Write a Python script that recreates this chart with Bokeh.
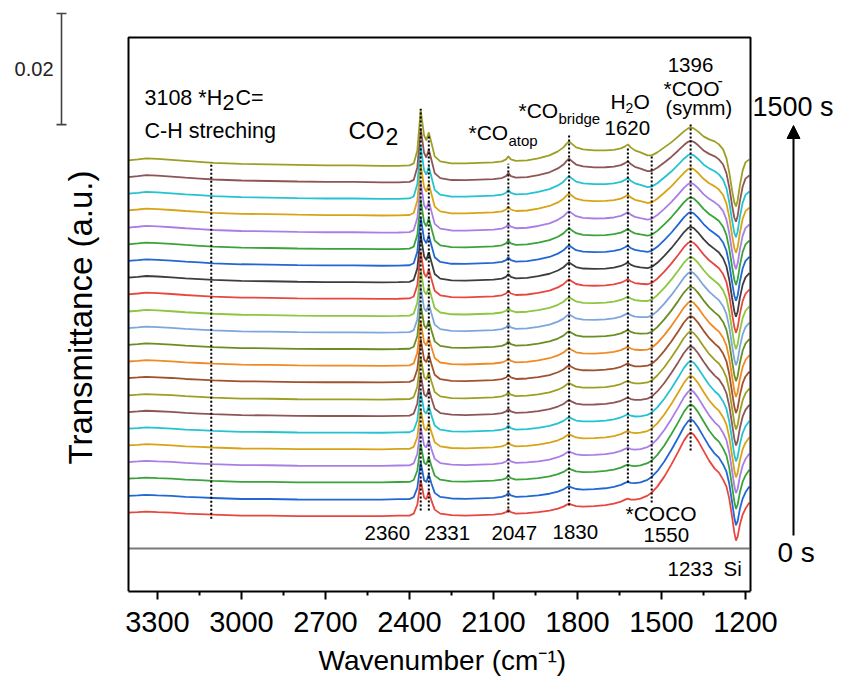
import math
from bokeh.plotting import figure
from bokeh.models import Range1d, FixedTicker, Arrow, NormalHead, Title
from bokeh.core.properties import value
from bokeh.embed import file_html
from bokeh.resources import INLINE

FONT = "Liberation Sans"

# ---------------- data ----------------
wavenumber = [3405, 3370, 3340, 3300, 3250, 3200, 3150, 3100, 3050, 3000, 2900, 2800, 2700, 2600,
              2500, 2440, 2400, 2385, 2372, 2360, 2348, 2340, 2331, 2322, 2310, 2290, 2250, 2200,
              2150, 2100, 2070, 2055, 2047, 2038, 2020, 1980, 1940, 1900, 1870, 1850, 1838, 1830,
              1822, 1805, 1780, 1740, 1700, 1670, 1645, 1630, 1620, 1610, 1595, 1575, 1550, 1535,
              1515, 1490, 1465, 1440, 1420, 1405, 1396, 1385, 1370, 1350, 1330, 1310, 1295, 1280,
              1268, 1258, 1248, 1240, 1234, 1228, 1220, 1210, 1200, 1186]

# spectrum shape at 0 s (bottom trace), in 1e-3 a.u., relative to its own baseline
profile_0s = [0, 0.09, 0.18, 0.09, 0, -0.18, -0.27, -0.36, -0.45, -0.54, -0.54, -0.63, -0.63, -0.63,
              -0.63, -0.54, -0.54, -0.18, 1.44, 5.9, 2.7, 2.4, 3.8, 2.2, 0.54, -0.18, -0.45, -0.54,
              -0.45, -0.36, -0.18, 0.09, 0.54, 0.09, -0.18, -0.09, 0.09, 0.36, 0.72, 1.08, 1.44, 1.62,
              1.44, 1.17, 1.08, 1.17, 1.35, 1.62, 1.98, 2.34, 2.52, 2.34, 2.34, 2.52, 3.06, 3.6,
              4.68, 6.48, 8.64, 10.98, 12.96, 14.04, 14.4, 14.04, 12.96, 11.16, 9.36, 7.92, 7.2, 5.94,
              4.68, 2.52, -0.72, -3.6, -5.04, -4.32, -2.16, -0.36, 0.72, 1.8]

# spectrum shape at 1500 s (top trace), in 1e-3 a.u., relative to its own baseline
profile_1500s = [0, 0.18, 0.36, 0.27, 0.09, -0.09, -0.27, -0.45, -0.54, -0.63, -0.72, -0.81, -0.9, -0.9,
                 -0.99, -0.99, -0.9, -0.54, 1.8, 9.0, 4.5, 3.6, 5.04, 3.24, 0.72, -0.18, -0.54, -0.54,
                 -0.45, -0.36, -0.18, 0.18, 0.72, 0.18, -0.09, 0, 0.36, 0.9, 1.62, 2.34, 3.06, 3.42,
                 3.06, 2.34, 1.98, 1.8, 1.8, 1.89, 2.16, 2.52, 2.88, 2.34, 1.8, 1.44, 0.9, 0.9,
                 1.44, 2.34, 3.24, 4.32, 5.22, 5.76, 5.94, 5.76, 5.22, 4.32, 3.78, 3.42, 2.88, 1.98,
                 0.36, -2.16, -5.4, -7.56, -8.28, -7.2, -4.5, -1.8, -0.36, 0.18]

# per-trace stacking offset (1e-3 a.u.) and share of the 0 s shape, from 0 s (bottom) to 1500 s (top)
trace_offset = [14.2, 17.2, 20.3, 23.3, 26.3, 29.3, 32.3, 35.3, 38.4, 41.4, 44.4,
                47.4, 50.4, 53.5, 56.5, 59.5, 62.5, 65.5, 68.6, 71.6, 74.6, 77.6]
trace_share_0s = [1.0, 0.93, 0.88, 0.83, 0.78, 0.74, 0.70, 0.66, 0.62, 0.58, 0.54,
                  0.50, 0.46, 0.42, 0.38, 0.34, 0.30, 0.25, 0.20, 0.14, 0.07, 0.0]
trace_color = ["#e8473f", "#2267d4", "#3aa33a", "#a97fe6", "#d8a417", "#25c3d2", "#8e5555",
               "#9d9f24", "#a0522d", "#f08a24", "#6b8e23", "#7ea6dc", "#8dc63f", "#e8473f",
               "#3d3d3d", "#2267d4", "#3aa33a", "#a97fe6", "#d8a417", "#25c3d2", "#8e5555", "#9d9f24"]

si_reference_wn = [3404, 1186]
si_reference_level = [7.74, 7.74]

# band markers: position (cm-1), lower and upper end of the dotted line (1e-3 a.u.)
marker_wn = [3108, 2360, 2331, 2047, 1830, 1620, 1535, 1396]
marker_low = [13.1, 14.6, 14.6, 14.2, 15.5, 19.6, 16.0, 25.4]
marker_high = [77.2, 86.9, 82.1, 77.0, 82.1, 79.9, 78.5, 84.4]

x_ticks = [3300, 3000, 2700, 2400, 2100, 1800, 1500, 1200]
x_minor_ticks = [3150, 2850, 2550, 2250, 1950, 1650, 1350]
scale_bar_value = 0.02  # a.u.

# ---------------- page geometry ----------------
PX_PER_CM = 0.28      # screen px per cm-1
AU_PER_PX = 0.18      # 1e-3 a.u. per screen px


def wx(px):   # page x pixel -> wavenumber
    return 3300 - (px - 157) / PX_PER_CM


def wy(py):   # page y pixel -> 1e-3 a.u.
    return (591 - py) * AU_PER_PX


W, H = 834, 687
p = figure(width=W, height=H, output_backend="svg", toolbar_location=None,
           x_range=Range1d(wx(0), wx(W)), y_range=Range1d(wy(591), wy(0)),
           y_axis_location=None, min_border_left=0, min_border_right=0,
           min_border_top=0, min_border_bottom=H - 591)
p.outline_line_color = None
p.grid.visible = False
p.background_fill_color = "white"
p.border_fill_color = "white"

box_left, box_right, box_top = wx(128), wx(750), wy(37)

# spectra
for i in range(len(trace_offset)):
    s = trace_share_0s[i]
    ys = [trace_offset[i] + s * a + (1 - s) * b for a, b in zip(profile_0s, profile_1500s)]
    p.line(wavenumber, ys, line_color=trace_color[i], line_width=1.8)

# Si reference
p.line(si_reference_wn, si_reference_level, line_color="#7a7a7a", line_width=2.2)

# dotted band markers
p.segment(x0=marker_wn, y0=marker_low, x1=marker_wn, y1=marker_high,
          line_color="black", line_width=2, line_dash="2 2")

# plot box (bottom side is the x axis)
p.line([box_left, box_left, box_right, box_right], [0, box_top, box_top, 0],
       line_color="black", line_width=2)

# x axis
ax = p.xaxis[0]
ax.ticker = FixedTicker(ticks=x_ticks, minor_ticks=x_minor_ticks)
ax.major_label_overrides = {t: str(t) for t in x_ticks}
ax.bounds = (box_right, box_left)
ax.axis_line_width = 2
ax.axis_line_color = "black"
ax.major_tick_line_width = 2
ax.minor_tick_line_width = 2
ax.major_tick_out = 8
ax.major_tick_in = 0
ax.minor_tick_out = 4
ax.minor_tick_in = 0
ax.major_label_text_font = FONT
ax.major_label_text_font_size = "29px"
ax.major_label_text_color = "black"
ax.major_label_standoff = 12

p.add_layout(Title(text="Wavenumber (cm⁻¹)", align="left", offset=318, vertical_align="top",
                   standoff=20, text_font=FONT, text_font_size="28px", text_font_style="normal",
                   text_color="black"), "below")

# y label
p.text(x=[wx(80)], y=[wy(317)], text=["Transmittance (a.u.)"], angle=math.pi / 2,
       text_align="center", text_baseline="middle", text_font=value(FONT),
       text_font_size="33px", text_color="black")

# scale bar
bar_top = wy(13)
bar_bottom = bar_top - scale_bar_value * 1000
bx = wx(61)
p.line([bx, bx], [bar_bottom, bar_top], line_color="#444444", line_width=1.6)
p.segment(x0=[wx(56), wx(56)], y0=[bar_bottom, bar_top], x1=[wx(66), wx(66)], y1=[bar_bottom, bar_top],
          line_color="#444444", line_width=1.6)
p.text(x=[wx(53)], y=[(bar_top + bar_bottom) / 2], text=[f"{scale_bar_value:.2f}"], text_align="right",
       text_baseline="middle", text_font=value(FONT), text_font_size="20px", text_color="#222222")

# time arrow
p.add_layout(Arrow(end=NormalHead(size=13, fill_color="black", line_color="black"),
                   x_start=wx(793), y_start=wy(535), x_end=wx(793), y_end=wy(125),
                   line_color="black", line_width=2))

# annotations: (text, page x, page y, size, align)
ann = [
    ("3108 *H", 144, 97, 21.5, "left"), ("2", 222, 102, 21.5, "left"), ("C=", 235, 97, 21.5, "left"),
    ("C-H streching", 144, 130, 21.5, "left"),
    ("CO", 348, 130, 24, "left"), ("2", 385, 136, 23, "left"),
    ("*CO", 468, 132, 21, "left"), ("atop", 508, 140, 15, "left"),
    ("*CO", 518, 110, 21, "left"), ("bridge", 558, 118, 15, "left"),
    ("H", 610, 101, 21, "left"), ("2", 625, 107, 14, "left"), ("O", 633, 101, 21, "left"),
    ("1620", 604, 127, 20.5, "left"),
    ("1396", 690, 64, 20.5, "center"), ("*COO", 663, 88, 21, "left"), ("-", 717, 79, 16, "left"),
    ("(symm)", 665, 107, 20, "left"),
    ("2360", 364, 532, 20.5, "left"), ("2331", 424, 532, 20.5, "left"), ("2047", 491, 532, 20.5, "left"),
    ("1830", 552, 531, 20.5, "left"),
    ("*COCO", 625, 513, 21, "left"), ("1550", 643, 534, 20.5, "left"),
    ("1233", 667, 568, 20.5, "left"), ("Si", 723, 568, 20.5, "left"),
    ("1500 s", 752, 106, 27, "left"), ("0 s", 777, 552, 28, "left"),
]
for t, x, y, fs, al in ann:
    p.text(x=[wx(x)], y=[wy(y)], text=[t], text_align=al, text_baseline="middle",
           text_font=value(FONT), text_font_size=f"{fs}px", text_color="black")

open("out.html", "w").write(file_html(p, INLINE))
